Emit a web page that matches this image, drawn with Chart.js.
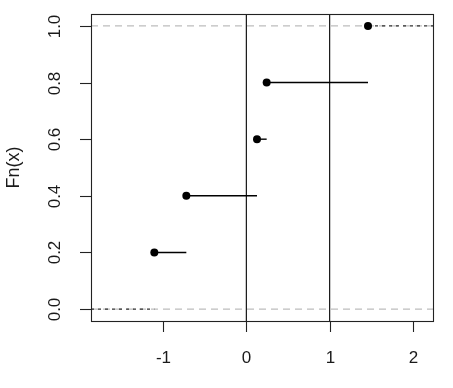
<!DOCTYPE html>
<html>
<head>
<meta charset="utf-8">
<script src="https://cdn.jsdelivr.net/npm/chart.js@4/dist/chart.umd.min.js"></script>
<style>
  body { margin: 0; background: #fff; }
  canvas { display: block; }
</style>
</head>
<body>
<canvas id="ecdfChart" width="453" height="388"></canvas>
<script>
// ecdf jump points
const jumpX = [-1.104, -0.72, 0.128, 0.244, 1.46];
const jumpY = [0.2, 0.4, 0.6, 0.8, 1.0];

// axis range and ticks
const xRange = [-1.864, 2.24];
const yRange = [-0.042, 1.042];
const xTicks = [-1, 0, 1, 2];
const yTicks = [0, 0.2, 0.4, 0.6, 0.8, 1.0];

// reference lines (abline h / v)
const hLines = [0, 1];
const vLines = [0, 1];

const axisFont = '17px "Liberation Sans", Arial, sans-serif';
const titleFont = '18px "Liberation Sans", Arial, sans-serif';

// step segments between jumps
const segments = [];
for (let i = 0; i < jumpX.length - 1; i++) {
    segments.push([{ x: jumpX[i], y: jumpY[i] }, { x: jumpX[i + 1], y: jumpY[i] }]);
}
// the two outer pieces
const tails = [
    [{ x: xRange[0], y: 0 }, { x: jumpX[0], y: 0 }],
    [{ x: jumpX[jumpX.length - 1], y: 1 }, { x: xRange[1], y: 1 }]
];

const datasets = [];

// points first so they are drawn on top
datasets.push({
    data: jumpX.map((x, i) => ({ x: x, y: jumpY[i] })),
    showLine: false,
    pointRadius: 4,
    pointBackgroundColor: '#000',
    pointBorderColor: '#000',
    pointBorderWidth: 0
});

segments.forEach(seg => datasets.push({
    data: seg, showLine: true, borderColor: '#000', borderWidth: 1.4, pointRadius: 0
}));

tails.forEach(seg => datasets.push({
    data: seg, showLine: true, borderColor: '#333', borderWidth: 1.4, borderDash: [3, 4], pointRadius: 0
}));

vLines.forEach(v => datasets.push({
    data: [{ x: v, y: yRange[0] }, { x: v, y: yRange[1] }],
    showLine: true, borderColor: '#000', borderWidth: 1.1, pointRadius: 0
}));

hLines.forEach(h => datasets.push({
    data: [{ x: xRange[0], y: h }, { x: xRange[1], y: h }],
    showLine: true, borderColor: '#bdbdbd', borderWidth: 1.2, borderDash: [7, 5], pointRadius: 0
}));

// box, ticks and labels like base R graphics
const rAxes = {
    id: 'rAxes',
    afterDraw(chart) {
        const ctx = chart.ctx;
        const a = chart.chartArea;
        const xs = chart.scales.x, ys = chart.scales.y;
        ctx.save();
        ctx.strokeStyle = '#222';
        ctx.lineWidth = 1.1;
        ctx.strokeRect(Math.round(a.left) + 0.5, Math.round(a.top) + 0.5,
            Math.round(a.right - a.left), Math.round(a.bottom - a.top));

        ctx.fillStyle = '#1a1a1a';
        ctx.font = axisFont;

        // x axis
        ctx.textAlign = 'center';
        ctx.textBaseline = 'middle';
        xTicks.forEach(t => {
            const px = Math.round(xs.getPixelForValue(t)) + 0.5;
            ctx.beginPath();
            ctx.moveTo(px, a.bottom);
            ctx.lineTo(px, a.bottom + 11);
            ctx.stroke();
            ctx.fillText(String(t), px, a.bottom + 37);
        });

        // y axis, labels rotated
        yTicks.forEach(t => {
            const py = Math.round(ys.getPixelForValue(t)) + 0.5;
            ctx.beginPath();
            ctx.moveTo(a.left, py);
            ctx.lineTo(a.left - 11, py);
            ctx.stroke();
            ctx.save();
            ctx.translate(a.left - 36, py);
            ctx.rotate(-Math.PI / 2);
            ctx.fillText(t.toFixed(1), 0, 0);
            ctx.restore();
        });

        // y title
        ctx.save();
        ctx.font = titleFont;
        ctx.translate(14, (a.top + a.bottom) / 2);
        ctx.rotate(-Math.PI / 2);
        ctx.fillText('Fn(x)', 0, 0);
        ctx.restore();
        ctx.restore();
    }
};

new Chart(document.getElementById('ecdfChart'), {
    type: 'scatter',
    data: { datasets: datasets },
    options: {
        responsive: false,
        animation: false,
        devicePixelRatio: 1,
        events: [],
        layout: { padding: { left: 91, top: 14, right: 20, bottom: 67 } },
        plugins: { legend: { display: false }, tooltip: { enabled: false } },
        scales: {
            x: { type: 'linear', min: xRange[0], max: xRange[1], display: false },
            y: { type: 'linear', min: yRange[0], max: yRange[1], display: false }
        }
    },
    plugins: [rAxes]
});
</script>
</body>
</html>
